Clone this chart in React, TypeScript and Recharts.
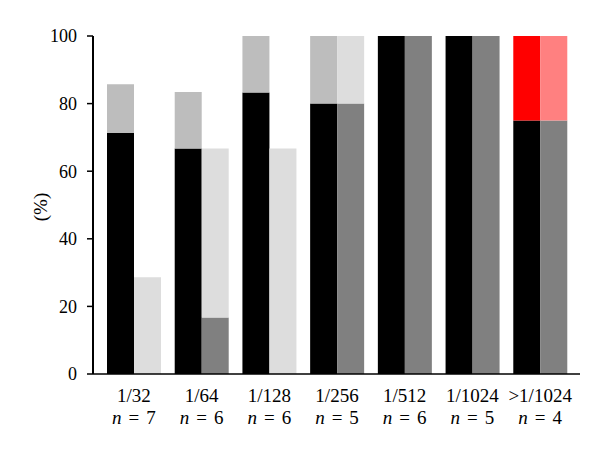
import React from "react";
import { BarChart, Bar, XAxis, YAxis, Cell } from "recharts";

// dilution groups and sample sizes
const categories = ["1/32", "1/64", "1/128", "1/256", "1/512", "1/1024", ">1/1024"];
const sampleSizes = [7, 6, 6, 5, 6, 5, 4];

// left column: black base + grey (red for last) top, in %
const leftBase = [71.4, 66.7, 83.3, 80, 100, 100, 75];
const leftTop = [14.3, 16.7, 16.7, 20, 0, 0, 25];

// right column: dark grey base + light (pink for last) top, in %
const rightBase = [0, 16.7, 0, 80, 100, 100, 75];
const rightTop = [28.6, 50, 66.7, 20, 0, 0, 25];

const yTicks = [0, 20, 40, 60, 80, 100];

const chartData = categories.map((name, i) => ({
  name,
  n: sampleSizes[i],
  leftBase: leftBase[i],
  leftTop: leftTop[i],
  rightBase: rightBase[i],
  rightTop: rightTop[i],
}));

const FONT = "'Liberation Serif', 'Times New Roman', serif";

const XTick = (props: any) => {
  const { x, y, payload, index } = props;
  return (
    <g>
      <text x={x} y={y + 20} textAnchor="middle" fontFamily={FONT} fontSize={19} fill="#000">
        {payload.value}
      </text>
      <text x={x} y={y + 42} textAnchor="middle" fontFamily={FONT} fontSize={19} fill="#000">
        <tspan fontStyle="italic">n</tspan>
        <tspan dx={7}>=</tspan>
        <tspan dx={7}>{sampleSizes[index]}</tspan>
      </text>
    </g>
  );
};

const YLabel = (props: any) => {
  const { viewBox } = props;
  const cx = 40;
  const cy = viewBox.y + viewBox.height / 2 + 2;
  return (
    <text
      x={cx}
      y={cy}
      transform={`rotate(-90 ${cx} ${cy})`}
      textAnchor="middle"
      dominantBaseline="central"
      fontFamily={FONT}
      fontSize={19}
      fill="#000"
    >
      (%)
    </text>
  );
};

const App = () => {
  const last = chartData.length - 1;
  return (
    <div style={{ position: "absolute", left: 0, top: 0, background: "#fff" }}>
      <BarChart
        width={600}
        height={458}
        data={chartData}
        margin={{ top: 36, right: 20, bottom: 0, left: 0 }}
        barGap={0}
        barSize={27}
      >
        <XAxis
          dataKey="name"
          padding={{ left: 7, right: 6 }}
          axisLine={{ stroke: "#000", strokeWidth: 1.5 }}
          tickLine={false}
          tick={<XTick />}
          interval={0}
          height={84}
        />
        <YAxis
          type="number"
          domain={[0, 100]}
          ticks={yTicks}
          width={93}
          axisLine={{ stroke: "#000", strokeWidth: 2 }}
          tickLine={{ stroke: "#000", strokeWidth: 1.5 }}
          tickSize={6}
          tickMargin={10}
          tick={{ fontFamily: FONT, fontSize: 18, fill: "#000" }}
          label={<YLabel />}
        />
        <Bar dataKey="leftBase" stackId="l" fill="#000000" isAnimationActive={false} />
        <Bar dataKey="leftTop" stackId="l" fill="#bdbdbd" isAnimationActive={false}>
          {chartData.map((d, i) => (
            <Cell key={d.name} fill={i === last ? "#ff0000" : "#bdbdbd"} />
          ))}
        </Bar>
        <Bar dataKey="rightBase" stackId="r" fill="#808080" isAnimationActive={false} />
        <Bar dataKey="rightTop" stackId="r" fill="#dddddd" isAnimationActive={false}>
          {chartData.map((d, i) => (
            <Cell key={d.name} fill={i === last ? "#ff8080" : "#dddddd"} />
          ))}
        </Bar>
      </BarChart>
    </div>
  );
};

export default App;
